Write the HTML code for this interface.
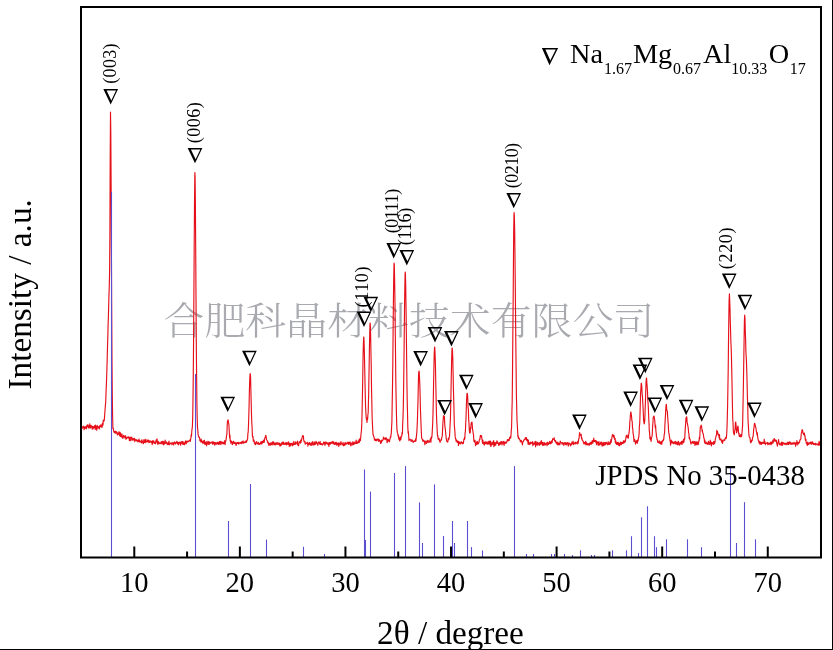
<!DOCTYPE html>
<html><head><meta charset="utf-8"><style>
html,body{margin:0;padding:0;background:#fff;}
body{width:833px;height:650px;overflow:hidden;position:relative;}
svg{position:absolute;left:0;top:0;display:block;}
text{font-family:"Liberation Serif","Times New Roman",serif;}
</style></head><body>
<svg width="833" height="650" viewBox="0 0 833 650">
<rect x="0" y="0" width="833" height="650" fill="#ffffff"/>
<text x="163.6" y="335" transform="translate(0,319) scale(1,0.93) translate(0,-319)" font-size="40.9" fill="#a9aab0" style="font-family:'Liberation Serif','Noto Serif CJK SC',serif;font-weight:300">合肥科晶材料技术有限公司</text>
<polyline fill="none" stroke="#e6101a" stroke-width="1.15" stroke-linejoin="round" points="82.0,427.8 82.3,428.2 82.6,427.4 82.9,426.4 83.2,427.1 83.5,426.3 83.8,427.9 84.1,429.8 84.4,427.0 84.7,426.8 85.0,428.5 85.3,428.3 85.6,427.9 85.9,426.3 86.2,427.7 86.5,428.8 86.8,425.7 87.1,427.0 87.4,424.8 87.7,425.7 88.0,424.9 88.3,427.3 88.6,425.7 88.9,428.1 89.2,427.9 89.5,427.3 89.8,423.8 90.1,426.8 90.4,427.5 90.7,427.8 91.0,425.3 91.3,426.8 91.6,426.1 91.9,426.3 92.2,429.1 92.5,426.3 92.8,427.4 93.1,428.8 93.4,426.6 93.7,427.3 94.0,427.6 94.3,427.5 94.6,425.5 94.9,427.5 95.2,429.4 95.5,425.0 95.8,428.6 96.1,427.4 96.4,426.3 96.7,430.3 97.0,428.3 97.3,425.3 97.6,427.2 97.9,427.9 98.2,426.7 98.5,428.0 98.8,426.8 99.1,427.9 99.4,429.0 99.7,425.7 100.0,427.0 100.3,425.9 100.6,426.7 100.9,424.6 101.2,425.4 101.5,425.8 101.8,427.3 102.1,427.4 102.4,423.2 102.7,423.5 103.0,425.1 103.3,420.1 103.6,421.4 103.9,420.5 104.2,420.8 104.5,417.6 104.8,413.0 105.1,409.3 105.4,405.0 105.7,402.6 106.0,393.2 106.3,386.2 106.6,379.0 106.9,369.1 107.2,358.9 107.5,346.8 107.8,337.4 108.1,325.3 108.4,316.6 108.7,305.0 109.0,293.9 109.3,285.6 109.6,271.0 109.9,233.6 110.2,158.9 110.5,112.0 110.8,132.3 111.1,183.1 111.4,249.3 111.7,310.0 112.0,363.1 112.3,395.4 112.6,415.9 112.9,428.5 113.2,427.8 113.5,429.7 113.8,431.6 114.1,432.3 114.4,431.6 114.7,431.8 115.0,433.2 115.3,433.2 115.6,431.2 115.9,432.7 116.2,433.0 116.5,431.7 116.8,433.7 117.1,432.3 117.4,435.0 117.7,434.1 118.0,434.1 118.3,433.4 118.6,434.2 118.9,431.8 119.2,433.1 119.5,435.3 119.8,432.1 120.1,436.2 120.4,432.9 120.7,436.4 121.0,434.4 121.3,436.7 121.6,436.0 121.9,433.9 122.2,437.7 122.5,438.1 122.8,436.2 123.1,436.1 123.4,436.3 123.7,435.4 124.0,438.2 124.3,436.2 124.6,436.9 124.9,436.1 125.2,436.4 125.5,435.7 125.8,439.1 126.1,437.3 126.4,438.9 126.7,437.8 127.0,437.0 127.3,437.5 127.6,437.3 127.9,438.1 128.2,437.8 128.5,437.9 128.8,436.7 129.1,437.5 129.4,440.7 129.7,437.8 130.0,437.4 130.3,439.3 130.6,440.7 130.9,437.2 131.2,438.8 131.5,438.4 131.8,437.1 132.1,440.2 132.4,439.4 132.7,439.5 133.0,438.6 133.3,440.2 133.6,439.0 133.9,439.6 134.2,438.4 134.5,438.4 134.8,441.6 135.1,439.4 135.4,440.4 135.7,440.1 136.0,439.6 136.3,439.6 136.6,441.0 136.9,440.0 137.2,440.2 137.5,440.5 137.8,441.9 138.1,441.4 138.4,441.1 138.7,440.0 139.0,439.1 139.3,441.9 139.6,442.0 139.9,440.7 140.2,441.6 140.5,441.9 140.8,442.0 141.1,442.1 141.4,440.6 141.7,442.9 142.0,439.7 142.3,442.2 142.6,441.8 142.9,442.3 143.2,443.6 143.5,443.1 143.8,440.1 144.1,439.5 144.4,442.5 144.7,440.3 145.0,441.6 145.3,442.6 145.6,439.7 145.9,439.2 146.2,442.0 146.5,441.8 146.8,441.5 147.1,441.9 147.4,440.8 147.7,440.1 148.0,441.7 148.3,440.8 148.6,440.1 148.9,442.6 149.2,441.9 149.5,442.5 149.8,440.9 150.1,441.3 150.4,441.0 150.7,441.1 151.0,442.4 151.3,441.3 151.6,442.6 151.9,442.6 152.2,444.6 152.5,440.7 152.8,443.3 153.1,442.2 153.4,442.3 153.7,440.7 154.0,441.9 154.3,443.3 154.6,442.4 154.9,442.6 155.2,442.2 155.5,443.8 155.8,442.5 156.1,440.0 156.4,441.8 156.7,440.3 157.0,438.9 157.3,442.0 157.6,444.2 157.9,442.7 158.2,441.3 158.5,441.6 158.8,444.0 159.1,442.9 159.4,442.8 159.7,442.7 160.0,442.8 160.3,443.7 160.6,443.4 160.9,443.0 161.2,441.6 161.5,443.4 161.8,442.1 162.1,444.1 162.4,441.4 162.7,442.7 163.0,442.9 163.3,441.4 163.6,444.9 163.9,444.6 164.2,442.4 164.5,443.8 164.8,443.4 165.1,440.0 165.4,443.3 165.7,442.9 166.0,443.1 166.3,441.8 166.6,442.7 166.9,442.8 167.2,444.4 167.5,443.4 167.8,443.0 168.1,444.8 168.4,442.4 168.7,442.6 169.0,441.0 169.3,444.8 169.6,444.2 169.9,444.1 170.2,443.8 170.5,443.2 170.8,443.3 171.1,442.8 171.4,442.9 171.7,443.2 172.0,444.8 172.3,443.7 172.6,443.0 172.9,442.5 173.2,442.4 173.5,444.9 173.8,443.7 174.1,443.2 174.4,442.7 174.7,441.9 175.0,443.0 175.3,444.1 175.6,442.7 175.9,442.9 176.2,442.9 176.5,443.2 176.8,441.3 177.1,442.8 177.4,442.1 177.7,444.1 178.0,442.2 178.3,443.7 178.6,444.8 178.9,442.7 179.2,442.4 179.5,443.3 179.8,443.0 180.1,441.9 180.4,443.5 180.7,445.3 181.0,442.7 181.3,442.7 181.6,441.8 181.9,443.3 182.2,441.5 182.5,441.6 182.8,444.3 183.1,441.8 183.4,444.0 183.7,444.5 184.0,443.0 184.3,443.3 184.6,444.8 184.9,442.3 185.2,441.8 185.5,440.9 185.8,442.4 186.1,444.0 186.4,443.3 186.7,441.0 187.0,441.0 187.3,441.3 187.6,442.1 187.9,441.4 188.2,441.7 188.5,441.6 188.8,440.7 189.1,440.7 189.4,440.7 189.7,440.0 190.0,440.3 190.3,441.5 190.6,439.3 190.9,437.9 191.2,434.7 191.5,436.2 191.8,431.1 192.1,428.6 192.4,426.6 192.7,416.8 193.0,399.5 193.3,372.0 193.6,338.6 193.9,293.3 194.2,246.1 194.5,204.8 194.8,175.3 194.9,172.5 195.1,177.0 195.4,205.0 195.7,249.4 196.0,296.7 196.3,342.7 196.6,375.1 196.9,402.9 197.2,418.2 197.5,427.3 197.8,430.2 198.1,434.6 198.4,435.6 198.7,436.5 199.0,437.5 199.3,437.1 199.6,437.5 199.9,440.8 200.2,440.0 200.5,440.8 200.8,442.0 201.1,439.1 201.4,440.4 201.7,441.7 202.0,442.2 202.3,441.4 202.6,443.2 202.9,442.4 203.2,440.8 203.5,441.3 203.8,443.3 204.1,443.0 204.4,440.4 204.7,444.2 205.0,443.4 205.3,444.3 205.6,442.4 205.9,442.5 206.2,441.6 206.5,445.8 206.8,442.8 207.1,444.8 207.4,442.3 207.7,443.3 208.0,441.2 208.3,442.7 208.6,444.3 208.9,441.8 209.2,444.4 209.5,443.6 209.8,442.1 210.1,442.7 210.4,442.7 210.7,443.2 211.0,442.7 211.3,442.4 211.6,443.0 211.9,442.2 212.2,441.9 212.5,443.3 212.8,444.3 213.1,441.7 213.4,443.4 213.7,442.7 214.0,442.3 214.3,444.4 214.6,442.8 214.9,445.1 215.2,442.5 215.5,443.9 215.8,443.2 216.1,442.6 216.4,444.1 216.7,443.3 217.0,444.1 217.3,443.4 217.6,442.2 217.9,443.3 218.2,443.5 218.5,444.5 218.8,442.4 219.1,443.4 219.4,441.5 219.7,444.1 220.0,442.2 220.3,441.4 220.6,443.3 220.9,444.6 221.2,441.7 221.5,442.1 221.8,442.5 222.1,442.1 222.4,443.7 222.7,442.4 223.0,442.4 223.3,443.8 223.6,442.3 223.9,443.6 224.2,441.9 224.5,441.5 224.8,440.6 225.1,444.6 225.4,441.6 225.7,441.5 226.0,439.9 226.3,438.1 226.6,435.1 226.9,434.2 227.2,425.8 227.5,420.9 227.8,420.6 228.1,419.8 228.1,419.8 228.4,422.5 228.7,422.9 229.0,426.3 229.3,431.9 229.6,437.6 229.9,434.9 230.2,440.9 230.5,440.1 230.8,443.3 231.1,441.3 231.4,442.4 231.7,441.2 232.0,441.9 232.3,444.7 232.6,444.1 232.9,442.8 233.2,442.3 233.5,441.2 233.8,442.9 234.1,443.3 234.4,443.3 234.7,443.3 235.0,442.1 235.3,443.3 235.6,443.4 235.9,444.9 236.2,445.5 236.5,443.3 236.8,442.6 237.1,443.4 237.4,442.7 237.7,442.6 238.0,443.4 238.3,442.3 238.6,444.1 238.9,443.3 239.2,443.7 239.5,443.2 239.8,442.6 240.1,442.3 240.4,443.1 240.7,442.7 241.0,443.6 241.3,443.3 241.6,441.8 241.9,443.3 242.2,441.7 242.5,442.5 242.8,442.8 243.1,440.8 243.4,443.2 243.7,443.2 244.0,442.8 244.3,442.4 244.6,442.4 244.9,441.6 245.2,442.3 245.5,441.8 245.8,442.4 246.1,440.7 246.4,442.1 246.7,441.6 247.0,440.7 247.3,439.4 247.6,439.0 247.9,433.4 248.2,431.8 248.5,424.9 248.8,415.9 249.1,404.9 249.4,391.1 249.7,380.9 250.0,374.6 250.2,373.5 250.3,374.1 250.6,377.3 250.9,390.7 251.2,403.6 251.5,414.8 251.8,423.0 252.1,427.5 252.4,435.9 252.7,437.5 253.0,436.5 253.3,441.1 253.6,439.6 253.9,440.2 254.2,441.3 254.5,443.7 254.8,442.0 255.1,442.9 255.4,444.7 255.7,444.6 256.0,442.8 256.3,442.7 256.6,441.6 256.9,442.3 257.2,443.6 257.5,443.6 257.8,443.3 258.1,444.3 258.4,442.4 258.7,443.2 259.0,444.1 259.3,444.0 259.6,444.5 259.9,443.8 260.2,443.0 260.5,443.8 260.8,442.2 261.1,441.5 261.4,444.0 261.7,443.3 262.0,443.7 262.3,441.4 262.6,442.8 262.9,442.5 263.2,442.0 263.5,440.1 263.8,441.8 264.1,442.4 264.4,440.8 264.7,438.3 265.0,437.7 265.3,437.4 265.6,435.6 265.8,435.5 265.9,435.6 266.2,437.1 266.5,439.5 266.8,440.1 267.1,440.4 267.4,441.5 267.7,442.9 268.0,441.9 268.3,442.9 268.6,444.2 268.9,445.5 269.2,443.2 269.5,443.4 269.8,443.7 270.1,445.0 270.4,443.5 270.7,445.2 271.0,442.5 271.3,443.4 271.6,443.4 271.9,444.5 272.2,444.8 272.5,441.9 272.8,442.6 273.1,444.0 273.4,442.9 273.7,441.9 274.0,444.8 274.3,444.2 274.6,444.2 274.9,443.1 275.2,444.8 275.5,443.4 275.8,444.9 276.1,442.7 276.4,442.7 276.7,443.9 277.0,442.9 277.3,444.4 277.6,444.0 277.9,442.7 278.2,443.8 278.5,443.3 278.8,444.7 279.1,443.0 279.4,443.2 279.7,445.0 280.0,446.2 280.3,445.9 280.6,443.8 280.9,443.9 281.2,445.4 281.5,443.6 281.8,442.6 282.1,443.8 282.4,444.2 282.7,442.8 283.0,441.9 283.3,442.1 283.6,444.4 283.9,442.9 284.2,443.5 284.5,443.9 284.8,444.4 285.1,443.3 285.4,444.3 285.7,442.7 286.0,443.3 286.3,442.6 286.6,445.0 286.9,443.7 287.2,442.9 287.5,443.3 287.8,443.5 288.1,444.5 288.4,441.9 288.7,442.6 289.0,443.3 289.3,446.5 289.6,444.8 289.9,443.6 290.2,444.5 290.5,446.0 290.8,443.4 291.1,443.3 291.4,445.0 291.7,444.2 292.0,444.4 292.3,443.1 292.6,445.8 292.9,445.6 293.2,444.3 293.5,444.4 293.8,441.4 294.1,444.4 294.4,443.5 294.7,444.2 295.0,444.4 295.3,443.3 295.6,441.8 295.9,444.1 296.2,442.8 296.5,443.3 296.8,443.0 297.1,443.2 297.4,441.0 297.7,445.0 298.0,443.9 298.3,444.8 298.6,445.8 298.9,443.5 299.2,441.5 299.5,442.4 299.8,442.0 300.1,442.7 300.4,443.1 300.7,440.3 301.0,442.4 301.3,439.4 301.6,440.4 301.9,438.6 302.2,436.9 302.5,436.1 302.8,435.5 302.9,435.5 303.1,435.6 303.4,436.4 303.7,439.9 304.0,441.4 304.3,441.8 304.6,442.1 304.9,441.3 305.2,444.3 305.5,443.0 305.8,443.2 306.1,443.0 306.4,443.5 306.7,443.0 307.0,443.4 307.3,442.3 307.6,443.2 307.9,446.1 308.2,443.5 308.5,443.3 308.8,444.2 309.1,444.4 309.4,442.4 309.7,443.4 310.0,444.7 310.3,444.0 310.6,443.8 310.9,445.4 311.2,442.9 311.5,443.8 311.8,443.1 312.1,445.3 312.4,441.5 312.7,442.9 313.0,443.1 313.3,444.4 313.6,444.4 313.9,445.2 314.2,441.9 314.5,444.5 314.8,443.4 315.1,442.9 315.4,444.3 315.7,442.7 316.0,441.4 316.3,443.3 316.6,442.0 316.9,443.0 317.2,444.1 317.5,444.0 317.8,445.4 318.1,443.5 318.4,442.0 318.7,442.8 319.0,442.7 319.3,442.3 319.6,444.2 319.9,443.0 320.2,441.5 320.5,444.5 320.8,443.6 321.1,444.1 321.4,443.8 321.7,444.4 322.0,443.7 322.3,445.1 322.6,444.2 322.9,444.1 323.2,444.1 323.5,442.1 323.8,443.5 324.1,443.4 324.4,443.9 324.7,442.2 325.0,445.5 325.3,443.8 325.6,442.3 325.9,441.8 326.2,443.4 326.5,443.6 326.8,442.9 327.1,443.8 327.4,443.0 327.7,444.3 328.0,442.9 328.3,443.6 328.6,444.7 328.9,446.5 329.2,442.5 329.5,443.1 329.8,442.7 330.1,444.5 330.4,442.4 330.7,443.1 331.0,443.6 331.3,442.6 331.6,442.6 331.9,443.1 332.2,441.3 332.5,442.0 332.8,443.2 333.1,443.8 333.4,443.4 333.7,441.7 334.0,443.1 334.3,444.5 334.6,444.2 334.9,443.5 335.2,442.6 335.5,444.3 335.8,443.0 336.1,442.3 336.4,442.7 336.7,445.2 337.0,443.8 337.3,444.9 337.6,443.1 337.9,444.6 338.2,442.9 338.5,443.4 338.8,446.4 339.1,444.4 339.4,443.0 339.7,443.5 340.0,443.9 340.3,444.9 340.6,443.0 340.9,441.6 341.2,443.2 341.5,443.6 341.8,443.7 342.1,445.0 342.4,443.9 342.7,444.4 343.0,442.3 343.3,444.5 343.6,445.8 343.9,444.4 344.2,443.8 344.5,443.7 344.8,445.5 345.1,442.4 345.4,443.3 345.7,444.0 346.0,444.3 346.3,443.0 346.6,443.8 346.9,443.1 347.2,443.6 347.5,443.3 347.8,442.1 348.1,443.4 348.4,444.4 348.7,442.3 349.0,443.1 349.3,444.1 349.6,442.1 349.9,443.5 350.2,442.1 350.5,444.5 350.8,445.9 351.1,445.5 351.4,443.0 351.7,444.0 352.0,443.3 352.3,443.3 352.6,444.9 352.9,441.6 353.2,444.3 353.5,443.0 353.8,444.6 354.1,443.2 354.4,442.2 354.7,443.2 355.0,443.7 355.3,442.8 355.6,443.3 355.9,442.0 356.2,440.1 356.5,443.5 356.8,443.2 357.1,442.5 357.4,442.3 357.7,443.3 358.0,441.4 358.3,440.9 358.6,441.3 358.9,442.7 359.2,439.4 359.5,442.2 359.8,439.6 360.1,438.4 360.4,440.6 360.7,437.6 361.0,434.0 361.3,431.8 361.6,428.1 361.9,420.0 362.2,405.4 362.5,391.3 362.8,374.2 363.1,354.8 363.4,343.3 363.7,337.1 363.8,337.0 364.0,339.7 364.3,349.2 364.6,362.9 364.9,377.3 365.2,391.5 365.5,405.0 365.8,411.0 366.1,416.4 366.4,419.1 366.7,419.2 367.0,422.5 367.3,417.6 367.6,419.4 367.9,414.8 368.2,412.5 368.5,399.6 368.6,397.5 368.8,385.3 369.1,368.5 369.4,349.9 369.7,333.8 370.0,323.9 370.1,323.0 370.3,324.4 370.6,333.3 370.9,350.3 371.2,363.5 371.5,386.8 371.8,400.4 372.1,416.3 372.4,423.6 372.7,428.7 373.0,434.4 373.3,434.9 373.6,436.3 373.9,436.3 374.2,438.7 374.5,439.6 374.8,440.4 375.1,439.1 375.4,440.7 375.7,439.4 376.0,439.4 376.3,440.1 376.6,440.8 376.9,439.1 377.2,439.2 377.5,439.4 377.8,439.8 378.1,438.8 378.4,441.3 378.7,439.7 379.0,440.9 379.3,439.6 379.6,441.2 379.9,441.3 380.2,440.5 380.5,443.5 380.8,441.6 381.1,443.2 381.4,442.2 381.7,440.1 382.0,440.3 382.3,441.0 382.6,440.3 382.9,440.0 383.2,439.2 383.5,437.1 383.8,438.8 384.1,439.0 384.4,438.9 384.4,438.9 384.7,438.1 385.0,438.9 385.3,439.7 385.6,437.9 385.9,437.8 386.2,438.9 386.5,438.0 386.8,439.4 387.1,442.6 387.4,439.5 387.7,441.6 388.0,439.1 388.3,441.0 388.6,440.1 388.9,440.2 389.2,440.7 389.5,441.8 389.8,439.4 390.1,438.7 390.4,436.6 390.7,437.5 391.0,434.6 391.3,433.3 391.6,427.1 391.9,421.8 392.2,403.1 392.5,387.2 392.8,364.6 393.1,333.6 393.4,302.8 393.7,278.4 394.0,264.8 394.1,263.0 394.3,264.7 394.6,278.9 394.9,296.9 395.2,324.2 395.5,352.8 395.8,379.9 396.1,396.9 396.4,411.6 396.7,424.0 397.0,430.2 397.3,432.2 397.6,433.5 397.9,434.4 398.2,436.3 398.5,435.0 398.8,439.1 399.1,437.6 399.4,439.2 399.7,441.0 400.0,440.1 400.3,437.1 400.6,439.5 400.9,439.6 401.2,436.7 401.5,435.8 401.8,436.0 402.1,432.4 402.4,434.0 402.7,423.6 403.0,417.8 403.3,407.1 403.6,389.7 403.9,367.1 404.2,339.8 404.5,310.6 404.8,288.9 405.1,273.7 405.2,272.0 405.4,273.5 405.7,285.2 406.0,305.3 406.3,328.7 406.6,355.5 406.9,381.5 407.2,400.0 407.5,412.5 407.8,426.6 408.1,433.1 408.4,431.5 408.7,436.3 409.0,440.6 409.3,439.3 409.6,439.2 409.9,439.2 410.2,439.2 410.5,439.9 410.8,439.8 411.1,441.5 411.4,440.3 411.7,440.4 412.0,439.7 412.3,441.1 412.6,440.2 412.9,441.1 413.2,442.5 413.5,441.7 413.8,441.8 414.1,441.6 414.4,441.2 414.7,440.8 415.0,440.4 415.3,441.4 415.6,438.8 415.9,441.1 416.2,438.4 416.5,435.4 416.8,432.5 417.1,427.0 417.4,420.9 417.7,409.8 418.0,401.2 418.3,386.1 418.6,373.7 418.9,371.7 419.1,371.0 419.2,371.6 419.5,377.9 419.8,384.3 420.0,391.1 420.1,394.6 420.4,408.4 420.7,416.0 421.0,423.7 421.3,431.4 421.6,437.5 421.9,438.6 422.2,438.9 422.5,440.2 422.8,441.2 423.1,440.2 423.4,440.0 423.7,441.5 424.0,440.5 424.3,441.7 424.6,442.0 424.9,444.7 425.2,441.1 425.5,442.0 425.8,441.9 426.1,442.7 426.4,443.4 426.7,441.6 427.0,441.2 427.3,440.3 427.6,441.1 427.9,442.7 428.2,442.1 428.5,440.8 428.8,441.4 429.1,441.8 429.4,442.2 429.7,440.8 430.0,441.0 430.3,438.9 430.6,439.4 430.9,442.3 431.2,437.1 431.5,438.4 431.8,437.5 432.1,434.1 432.4,429.0 432.7,423.2 433.0,413.4 433.3,400.2 433.6,381.9 433.9,368.7 434.2,354.1 434.5,348.0 434.6,347.0 434.8,347.7 435.1,355.1 435.4,363.3 435.7,379.1 436.0,393.9 436.3,407.3 436.6,418.8 436.9,424.8 437.2,430.7 437.5,435.9 437.8,435.5 438.1,439.0 438.4,438.9 438.7,439.7 439.0,438.4 439.3,439.7 439.6,440.9 439.9,442.0 440.2,442.2 440.5,440.9 440.8,440.5 441.1,439.3 441.4,440.1 441.7,437.9 442.0,437.0 442.3,435.7 442.6,429.4 442.9,422.9 443.2,419.7 443.5,415.6 443.8,416.5 443.9,416.5 444.1,417.0 444.4,416.6 444.7,423.1 445.0,427.7 445.3,429.0 445.6,432.0 445.9,435.2 446.2,438.1 446.5,439.8 446.8,441.3 447.1,441.8 447.4,441.9 447.7,442.1 448.0,441.1 448.3,438.2 448.6,439.5 448.9,439.3 449.2,437.2 449.5,436.7 449.8,431.3 450.1,424.5 450.4,419.4 450.7,406.2 451.0,390.9 451.3,376.1 451.6,361.9 451.9,350.7 452.1,348.0 452.2,348.1 452.5,351.2 452.8,359.0 453.1,372.9 453.4,388.4 453.7,399.5 454.0,410.4 454.3,425.0 454.6,428.1 454.9,431.8 455.2,436.9 455.5,439.0 455.8,438.7 456.1,441.3 456.4,440.2 456.7,440.0 457.0,441.6 457.3,442.5 457.6,441.0 457.9,442.3 458.2,441.9 458.5,445.4 458.8,441.4 459.1,443.8 459.4,442.2 459.7,442.2 460.0,443.2 460.3,443.4 460.6,443.8 460.9,442.8 461.2,441.7 461.5,441.7 461.8,442.9 462.1,442.9 462.4,443.8 462.7,442.5 463.0,443.1 463.3,443.5 463.6,441.6 463.9,439.3 464.2,438.9 464.5,437.4 464.8,439.3 465.1,432.9 465.4,431.3 465.7,424.1 466.0,418.2 466.3,408.8 466.6,399.5 466.9,394.6 467.1,393.2 467.2,393.2 467.5,394.3 467.8,399.4 468.1,408.0 468.4,409.6 468.7,419.5 469.0,423.6 469.3,429.6 469.6,433.0 469.9,432.5 470.2,432.9 470.5,427.4 470.8,428.7 471.1,423.5 471.4,422.7 471.6,422.3 471.7,422.3 472.0,422.1 472.3,425.5 472.6,430.0 472.9,430.9 473.2,433.8 473.5,434.2 473.8,440.0 474.1,442.0 474.4,440.9 474.7,441.3 475.0,440.2 475.3,443.3 475.6,445.6 475.9,443.4 476.2,444.2 476.5,443.4 476.8,441.7 477.1,444.4 477.4,441.5 477.7,442.6 478.0,443.2 478.3,443.8 478.6,443.1 478.9,442.7 479.2,440.8 479.5,439.3 479.8,439.7 480.1,437.4 480.4,435.4 480.7,436.5 480.8,436.5 481.0,436.6 481.3,435.5 481.6,435.9 481.9,439.1 482.2,440.5 482.5,443.3 482.8,440.0 483.1,441.6 483.4,443.8 483.7,442.7 484.0,442.8 484.3,445.1 484.6,442.9 484.9,442.0 485.2,441.8 485.5,443.7 485.8,443.7 486.1,441.8 486.4,442.3 486.7,444.0 487.0,444.0 487.3,442.7 487.6,444.1 487.9,444.1 488.2,441.4 488.5,443.1 488.8,443.9 489.1,442.8 489.4,441.0 489.7,443.1 490.0,444.3 490.3,445.2 490.6,441.0 490.9,446.4 491.2,442.2 491.5,444.5 491.8,444.8 492.1,444.5 492.4,443.6 492.7,442.1 493.0,444.1 493.3,442.6 493.6,440.6 493.9,446.6 494.2,444.2 494.5,445.4 494.8,442.4 495.1,445.0 495.4,445.2 495.7,445.1 496.0,443.3 496.3,442.0 496.6,443.1 496.9,440.9 497.2,441.4 497.5,443.4 497.8,442.2 498.1,443.1 498.4,443.2 498.7,445.4 499.0,444.7 499.3,443.2 499.6,444.6 499.9,442.3 500.2,442.8 500.5,444.2 500.8,441.7 501.1,442.8 501.4,441.6 501.7,443.2 502.0,444.9 502.3,442.1 502.6,443.2 502.9,441.9 503.2,441.6 503.5,441.4 503.8,444.4 504.1,445.4 504.4,443.2 504.7,441.8 505.0,443.3 505.3,442.1 505.6,443.3 505.9,442.6 506.2,442.5 506.5,442.8 506.8,441.3 507.1,441.3 507.4,439.6 507.7,440.9 508.0,439.5 508.3,440.8 508.6,439.5 508.9,440.4 509.2,440.5 509.5,437.7 509.8,437.8 510.1,436.9 510.4,438.2 510.7,438.1 511.0,435.1 511.3,430.1 511.6,427.1 511.9,412.5 512.2,401.3 512.5,374.1 512.8,338.7 513.1,309.0 513.4,267.5 513.7,230.4 514.0,214.4 514.1,212.5 514.3,214.7 514.6,226.0 514.9,248.9 515.2,278.0 515.5,308.8 515.8,341.9 516.1,368.5 516.4,395.0 516.7,407.2 517.0,420.5 517.3,424.7 517.6,430.4 517.9,436.8 518.2,435.5 518.5,438.5 518.8,438.5 519.1,438.0 519.4,439.3 519.7,439.5 520.0,439.9 520.3,441.7 520.6,441.8 520.9,440.6 521.2,440.4 521.5,441.9 521.8,441.6 522.1,443.0 522.4,445.0 522.7,442.9 523.0,441.8 523.3,441.5 523.6,440.5 523.9,440.1 524.2,439.5 524.5,439.7 524.8,438.9 525.1,439.7 525.4,437.7 525.7,437.5 526.0,437.5 526.1,437.5 526.3,437.6 526.6,440.1 526.9,439.3 527.2,440.8 527.5,439.3 527.8,441.1 528.1,444.1 528.4,440.0 528.7,443.3 529.0,444.3 529.3,443.1 529.6,443.7 529.9,444.4 530.2,442.3 530.5,443.6 530.8,442.2 531.1,442.4 531.4,442.5 531.7,443.1 532.0,443.5 532.3,443.8 532.6,441.7 532.9,445.6 533.2,444.7 533.5,444.2 533.8,443.0 534.1,443.3 534.4,444.1 534.7,443.9 535.0,441.5 535.3,444.3 535.6,446.8 535.9,441.4 536.2,444.6 536.5,443.9 536.8,443.4 537.1,445.1 537.4,442.2 537.7,443.7 538.0,445.2 538.3,443.3 538.6,443.1 538.9,443.7 539.2,443.0 539.5,445.3 539.8,442.5 540.1,444.6 540.4,442.1 540.7,444.3 541.0,443.4 541.3,440.6 541.6,443.6 541.9,442.4 542.2,443.1 542.5,445.3 542.8,442.3 543.1,442.4 543.4,445.2 543.7,443.7 544.0,445.3 544.3,444.0 544.6,442.6 544.9,443.5 545.2,445.0 545.5,444.7 545.8,443.6 546.1,443.6 546.4,443.4 546.7,442.9 547.0,445.8 547.3,443.6 547.6,442.2 547.9,443.0 548.2,444.4 548.5,444.2 548.8,443.3 549.1,442.7 549.4,443.4 549.7,441.4 550.0,441.6 550.3,443.9 550.6,442.1 550.9,442.7 551.2,443.3 551.5,442.0 551.8,440.6 552.1,442.7 552.4,440.3 552.7,438.7 553.0,439.0 553.0,439.0 553.3,439.1 553.6,439.4 553.9,439.5 554.2,437.7 554.5,440.5 554.8,440.9 555.1,441.3 555.4,440.3 555.7,442.2 556.0,442.8 556.3,443.2 556.6,442.0 556.9,444.1 557.2,442.0 557.5,443.2 557.8,445.0 558.1,442.8 558.4,443.0 558.7,444.8 559.0,443.2 559.3,443.3 559.6,443.9 559.9,444.8 560.2,441.1 560.5,442.7 560.8,442.5 561.1,442.4 561.4,442.7 561.7,442.7 562.0,444.0 562.3,442.6 562.6,443.8 562.9,444.1 563.2,442.8 563.5,443.8 563.8,445.5 564.1,444.0 564.4,442.9 564.7,443.6 565.0,442.6 565.3,444.0 565.6,444.6 565.9,442.7 566.2,443.4 566.5,444.9 566.8,443.1 567.1,443.9 567.4,442.5 567.7,442.7 568.0,443.1 568.3,446.1 568.6,443.2 568.9,443.1 569.2,443.0 569.5,443.5 569.8,444.4 570.1,443.9 570.4,445.9 570.7,443.9 571.0,445.3 571.3,444.0 571.6,444.3 571.9,442.0 572.2,443.5 572.5,443.6 572.8,443.4 573.1,441.2 573.4,444.6 573.7,443.2 574.0,443.1 574.3,443.3 574.6,443.3 574.9,444.0 575.2,442.1 575.5,442.5 575.8,443.8 576.1,443.6 576.4,443.0 576.7,442.7 577.0,442.3 577.3,443.0 577.6,444.0 577.9,441.0 578.2,443.2 578.5,441.3 578.8,438.3 579.1,438.4 579.4,434.0 579.7,432.6 580.0,434.5 580.0,434.5 580.3,434.7 580.6,434.6 580.9,436.2 581.2,434.3 581.5,438.7 581.8,437.5 582.1,439.5 582.4,440.7 582.7,440.6 583.0,440.9 583.3,441.7 583.6,443.1 583.9,443.9 584.2,444.0 584.5,442.3 584.8,442.6 585.1,442.5 585.4,444.0 585.7,441.3 586.0,444.9 586.3,443.0 586.6,442.7 586.9,443.9 587.2,444.7 587.5,444.0 587.8,444.8 588.1,443.7 588.4,444.9 588.7,445.0 589.0,443.5 589.3,445.2 589.6,443.7 589.9,443.7 590.2,442.5 590.5,443.2 590.8,444.4 591.1,442.0 591.4,444.1 591.7,443.6 592.0,443.4 592.3,440.3 592.6,442.4 592.9,442.9 593.2,440.8 593.5,441.4 593.8,438.1 594.1,441.5 594.4,440.5 594.5,440.5 594.7,440.5 595.0,441.5 595.3,440.6 595.6,442.1 595.9,440.4 596.2,441.1 596.5,444.8 596.8,441.5 597.1,442.0 597.4,442.7 597.7,442.0 598.0,444.6 598.3,445.3 598.6,442.7 598.9,441.6 599.2,444.8 599.5,444.8 599.8,444.5 600.1,444.9 600.4,442.6 600.7,443.4 601.0,442.1 601.3,442.0 601.6,444.7 601.9,442.9 602.2,446.1 602.5,443.7 602.8,442.9 603.1,444.5 603.4,445.6 603.7,444.1 604.0,442.2 604.3,444.0 604.6,445.1 604.9,443.0 605.2,442.7 605.5,444.7 605.8,443.7 606.1,442.3 606.4,443.1 606.7,442.7 607.0,443.9 607.3,443.6 607.6,444.8 607.9,444.3 608.2,441.7 608.5,443.9 608.8,444.4 609.1,443.9 609.4,444.5 609.7,442.6 610.0,442.0 610.3,443.9 610.6,441.3 610.9,439.5 611.2,442.5 611.5,439.4 611.8,438.7 612.1,436.1 612.4,435.0 612.7,434.4 613.0,435.6 613.0,435.6 613.3,435.7 613.6,437.2 613.9,435.2 614.2,436.1 614.5,439.2 614.8,439.1 615.1,438.3 615.4,443.1 615.7,440.6 616.0,442.5 616.3,442.8 616.6,444.5 616.9,442.5 617.2,444.3 617.5,442.4 617.8,444.5 618.1,442.4 618.4,442.9 618.7,445.5 619.0,443.7 619.3,443.5 619.6,445.8 619.9,443.7 620.2,442.4 620.5,444.1 620.8,442.0 621.1,444.6 621.4,444.6 621.7,442.6 622.0,442.5 622.3,443.4 622.6,443.2 622.9,442.0 623.2,443.7 623.5,440.7 623.8,442.4 624.1,442.3 624.4,442.3 624.7,442.6 625.0,440.3 625.3,441.6 625.6,439.8 625.9,438.1 626.2,436.0 626.5,435.4 626.8,436.9 627.1,435.0 627.4,436.5 627.7,438.0 628.0,437.9 628.3,438.2 628.6,435.3 628.6,435.0 628.9,433.6 629.2,431.3 629.5,428.7 629.8,422.4 630.1,419.5 630.4,415.2 630.7,412.1 630.8,412.0 631.0,412.5 631.3,414.7 631.6,417.1 631.9,420.9 632.2,421.3 632.5,428.0 632.8,428.6 633.1,433.5 633.4,434.9 633.7,437.1 634.0,441.6 634.3,439.9 634.6,439.4 634.9,440.5 635.2,441.2 635.5,444.2 635.8,442.0 636.1,442.8 636.4,440.5 636.7,442.0 637.0,442.2 637.3,443.4 637.6,440.1 637.9,441.3 638.2,440.3 638.5,437.6 638.8,437.0 639.1,433.7 639.4,426.0 639.7,423.8 640.0,415.1 640.3,403.8 640.6,392.6 640.9,389.4 641.2,383.4 641.3,383.2 641.5,384.1 641.8,386.6 642.1,393.2 642.4,396.1 642.7,401.2 643.0,406.6 643.3,412.6 643.6,419.9 643.9,422.4 644.2,423.9 644.5,422.8 644.8,419.8 645.1,410.8 645.4,402.2 645.7,392.8 646.0,383.1 646.3,378.9 646.5,378.1 646.6,378.5 646.9,383.9 647.2,387.3 647.5,391.7 647.8,400.5 648.1,403.5 648.4,409.6 648.7,417.2 649.0,423.7 649.3,430.8 649.6,432.9 649.9,438.7 650.2,436.7 650.5,439.7 650.8,438.1 651.1,441.5 651.4,438.2 651.7,437.2 652.0,436.4 652.3,433.8 652.6,426.4 652.9,423.2 653.2,417.5 653.5,417.0 653.8,416.2 653.8,416.2 654.1,416.1 654.4,418.5 654.7,420.0 655.0,424.2 655.3,428.0 655.6,425.3 655.9,431.0 656.2,433.4 656.5,437.1 656.8,437.2 657.1,439.7 657.4,439.6 657.7,442.3 658.0,442.0 658.3,442.0 658.6,442.7 658.9,442.1 659.2,440.7 659.5,443.2 659.8,442.9 660.1,442.4 660.4,443.7 660.7,443.9 661.0,441.3 661.3,441.6 661.6,444.2 661.9,444.0 662.2,441.4 662.5,440.7 662.8,441.1 663.1,441.0 663.4,439.1 663.7,440.0 664.0,436.7 664.3,434.0 664.6,433.0 664.9,425.3 665.2,420.0 665.5,414.6 665.8,409.3 666.1,404.8 666.2,404.3 666.4,404.6 666.7,409.4 667.0,410.6 667.3,410.9 667.6,415.6 667.9,420.0 668.2,423.5 668.5,429.7 668.8,432.9 669.1,433.6 669.4,437.0 669.7,437.6 670.0,440.8 670.3,441.6 670.6,445.1 670.9,442.4 671.2,440.1 671.5,441.8 671.8,442.9 672.1,441.4 672.4,441.9 672.7,442.5 673.0,443.4 673.3,442.9 673.6,442.1 673.9,444.0 674.2,442.5 674.5,442.6 674.8,441.7 675.1,442.3 675.4,444.0 675.7,441.4 676.0,443.2 676.3,444.1 676.6,442.9 676.9,443.6 677.2,442.0 677.5,444.8 677.8,444.5 678.1,443.6 678.4,441.3 678.7,442.1 679.0,444.4 679.3,445.2 679.6,443.6 679.9,444.6 680.2,442.5 680.5,443.0 680.8,443.1 681.1,443.6 681.4,441.3 681.7,444.1 682.0,444.4 682.3,441.6 682.6,441.2 682.9,443.0 683.2,441.7 683.5,439.3 683.8,442.4 684.1,440.7 684.4,438.3 684.7,439.2 685.0,433.3 685.3,427.9 685.6,424.6 685.9,418.7 686.2,417.6 686.5,416.8 686.5,416.8 686.8,417.2 687.1,422.6 687.4,423.4 687.7,425.2 688.0,426.6 688.3,428.8 688.6,432.8 688.9,433.4 689.2,438.5 689.5,437.0 689.8,439.5 690.1,439.4 690.4,441.4 690.7,442.9 691.0,444.2 691.3,442.0 691.6,442.8 691.9,442.5 692.2,442.2 692.5,441.7 692.8,443.1 693.1,441.2 693.4,443.3 693.7,443.2 694.0,442.4 694.3,442.0 694.6,441.6 694.9,445.3 695.2,441.7 695.5,444.9 695.8,443.8 696.1,442.7 696.4,441.8 696.7,444.2 697.0,445.0 697.3,441.9 697.6,442.5 697.9,443.9 698.2,442.8 698.5,444.4 698.8,440.7 699.1,440.9 699.4,437.0 699.7,439.0 700.0,432.4 700.3,427.1 700.6,427.3 700.9,425.6 701.1,425.1 701.2,425.1 701.5,425.9 701.8,428.3 702.1,431.2 702.4,430.0 702.7,432.8 703.0,433.4 703.3,434.0 703.6,436.3 703.9,438.1 704.2,438.5 704.5,442.2 704.8,440.0 705.1,443.5 705.4,443.6 705.7,442.7 706.0,442.0 706.3,442.7 706.6,443.6 706.9,443.9 707.2,443.4 707.5,444.3 707.8,442.5 708.1,443.4 708.4,441.4 708.7,444.1 709.0,443.4 709.3,442.7 709.6,444.5 709.9,444.0 710.2,440.0 710.5,443.2 710.8,441.5 711.1,444.4 711.4,445.9 711.7,442.5 712.0,443.2 712.3,442.8 712.6,443.4 712.9,443.7 713.2,444.4 713.5,441.7 713.8,444.5 714.1,441.5 714.4,442.6 714.7,443.3 715.0,442.1 715.3,439.2 715.6,438.2 715.9,436.8 716.2,435.5 716.5,435.3 716.8,430.4 717.1,431.3 717.3,431.2 717.4,431.2 717.7,432.4 718.0,434.7 718.3,434.1 718.6,435.3 718.9,435.7 719.2,438.2 719.5,434.5 719.8,439.7 720.1,438.8 720.4,439.6 720.7,439.5 721.0,439.0 721.3,441.1 721.6,440.9 721.9,442.4 722.2,440.1 722.5,443.4 722.8,442.0 723.1,441.3 723.4,440.6 723.7,440.3 724.0,439.7 724.3,440.1 724.6,440.5 724.9,439.9 725.2,438.0 725.5,438.8 725.8,437.3 726.1,437.6 726.4,438.2 726.7,433.8 727.0,427.7 727.3,417.7 727.6,405.9 727.9,388.3 728.2,370.1 728.5,342.5 728.8,319.4 729.1,301.1 729.4,293.9 729.7,300.6 730.0,308.7 730.3,321.9 730.6,331.7 730.9,342.8 731.2,348.2 731.5,359.0 731.8,372.4 732.1,387.0 732.4,403.8 732.7,418.7 733.0,421.7 733.3,430.7 733.6,433.3 733.9,433.4 734.2,434.9 734.5,433.6 734.8,429.8 735.1,429.5 735.4,422.9 735.6,422.0 735.7,422.2 736.0,424.2 736.3,429.3 736.6,432.8 736.9,431.9 737.2,430.4 737.5,428.3 737.8,426.0 737.9,426.0 738.1,426.8 738.4,430.8 738.7,434.0 739.0,433.3 739.3,436.4 739.6,435.6 739.9,435.3 740.2,437.0 740.5,434.9 740.8,436.4 741.1,434.5 741.4,436.6 741.7,436.0 742.0,432.7 742.3,428.7 742.6,426.1 742.9,410.7 743.2,396.2 743.5,377.6 743.8,359.3 744.1,339.8 744.4,320.9 744.7,315.1 745.0,318.7 745.3,331.3 745.6,339.3 745.9,352.2 746.2,356.6 746.5,362.9 746.8,372.3 747.1,383.5 747.4,397.2 747.7,405.1 748.0,419.0 748.3,424.6 748.6,429.7 748.9,434.7 749.2,436.6 749.5,437.1 749.8,437.2 750.1,438.6 750.4,441.9 750.7,442.8 751.0,441.5 751.3,442.2 751.6,440.2 751.9,440.6 752.2,440.7 752.5,438.2 752.8,437.0 753.1,436.5 753.4,433.3 753.7,429.1 754.0,428.0 754.3,424.3 754.6,423.4 754.7,423.3 754.9,423.7 755.2,425.3 755.5,426.6 755.8,427.5 756.1,429.0 756.4,431.6 756.7,432.5 757.0,434.9 757.3,432.7 757.6,436.3 757.9,438.1 758.2,440.2 758.5,440.5 758.8,441.2 759.1,443.1 759.4,442.7 759.7,441.4 760.0,444.3 760.3,444.0 760.6,442.3 760.9,444.0 761.2,442.2 761.5,444.4 761.8,442.9 762.1,442.3 762.4,442.8 762.7,442.4 763.0,443.5 763.3,443.5 763.6,443.3 763.9,442.7 764.2,439.2 764.5,443.5 764.8,441.2 765.1,443.6 765.4,444.6 765.7,443.7 766.0,443.0 766.3,443.2 766.6,443.3 766.9,442.8 767.2,442.8 767.5,442.4 767.8,444.8 768.1,443.4 768.4,444.5 768.7,443.1 769.0,443.5 769.3,443.2 769.6,443.9 769.9,444.3 770.2,443.6 770.5,442.5 770.8,442.2 771.1,444.8 771.4,442.3 771.7,442.0 772.0,443.6 772.3,442.7 772.6,441.6 772.9,440.0 773.2,443.0 773.5,440.0 773.6,440.0 773.8,440.0 774.1,438.5 774.4,438.8 774.7,441.1 775.0,441.3 775.3,440.8 775.6,440.0 775.9,439.9 776.2,441.6 776.5,440.6 776.8,443.6 777.1,444.1 777.4,446.2 777.7,444.2 778.0,442.6 778.3,442.4 778.6,439.6 778.9,442.8 779.2,443.3 779.5,444.6 779.8,444.2 780.1,444.2 780.4,443.8 780.7,444.3 781.0,445.2 781.3,442.4 781.6,443.1 781.9,442.1 782.2,445.4 782.5,445.1 782.8,444.5 783.1,442.3 783.4,443.8 783.7,443.4 784.0,443.7 784.3,443.4 784.6,444.2 784.9,443.2 785.2,444.6 785.5,443.9 785.8,443.3 786.1,443.5 786.4,443.2 786.7,444.6 787.0,443.4 787.3,444.0 787.6,443.2 787.9,442.0 788.2,444.7 788.5,442.5 788.8,444.4 789.1,444.1 789.4,441.8 789.7,442.6 790.0,443.1 790.3,442.7 790.6,442.3 790.9,444.5 791.2,443.4 791.5,444.1 791.8,443.2 792.1,444.0 792.4,442.8 792.7,443.6 793.0,444.3 793.3,443.7 793.6,443.1 793.9,442.4 794.2,443.8 794.5,444.0 794.8,443.3 795.1,442.7 795.4,444.2 795.7,446.3 796.0,443.2 796.3,443.9 796.6,443.9 796.9,440.6 797.2,443.6 797.5,442.6 797.8,444.9 798.1,443.0 798.4,442.3 798.7,442.8 799.0,443.1 799.3,442.0 799.6,442.1 799.9,439.8 800.2,439.9 800.5,439.6 800.8,439.3 801.1,435.5 801.4,432.8 801.7,432.4 802.0,429.8 802.1,429.7 802.3,429.9 802.6,430.6 802.9,432.3 803.2,433.3 803.5,434.3 803.8,434.7 804.1,434.0 804.4,433.0 804.7,436.0 805.0,435.6 805.3,439.5 805.6,440.5 805.9,439.4 806.2,442.9 806.5,443.6 806.8,443.0 807.1,445.0 807.4,445.4 807.7,442.0 808.0,444.6 808.3,443.9 808.6,443.9 808.9,444.5 809.2,442.7 809.5,442.9 809.8,442.6 810.1,442.7 810.4,443.5 810.7,442.0 811.0,442.5 811.3,444.3 811.6,443.6 811.9,444.1 812.2,441.6 812.5,442.8 812.8,443.0 813.1,443.7 813.4,443.0 813.7,444.7 814.0,443.6 814.3,443.7 814.6,443.7 814.9,444.5 815.2,443.2 815.5,444.9 815.8,444.2 816.1,443.9 816.4,443.8 816.7,444.3 817.0,444.8 817.3,444.8 817.6,444.1 817.9,444.7 818.2,443.9 818.5,445.1 818.8,443.7 819.1,441.4 819.4,445.2 819.7,443.9 820.0,442.4 820.3,443.5"/>
<g stroke="#5a4fd0" stroke-width="1.1"><line x1="111.5" y1="557" x2="111.5" y2="191.8"/><line x1="195.5" y1="557" x2="195.5" y2="374"/><line x1="228.5" y1="557" x2="228.5" y2="521"/><line x1="250.5" y1="557" x2="250.5" y2="484"/><line x1="266.5" y1="557" x2="266.5" y2="539.6"/><line x1="303.5" y1="557" x2="303.5" y2="546.8"/><line x1="324.5" y1="557" x2="324.5" y2="554"/><line x1="364.5" y1="557" x2="364.5" y2="469.4"/><line x1="365.5" y1="557" x2="365.5" y2="540"/><line x1="370.5" y1="557" x2="370.5" y2="491.6"/><line x1="394.5" y1="557" x2="394.5" y2="473"/><line x1="405.5" y1="557" x2="405.5" y2="466.1"/><line x1="419.5" y1="557" x2="419.5" y2="502.4"/><line x1="422.5" y1="557" x2="422.5" y2="543"/><line x1="434.5" y1="557" x2="434.5" y2="484.4"/><line x1="443.5" y1="557" x2="443.5" y2="536"/><line x1="452.5" y1="557" x2="452.5" y2="521"/><line x1="454.5" y1="557" x2="454.5" y2="543"/><line x1="467.5" y1="557" x2="467.5" y2="521"/><line x1="471.5" y1="557" x2="471.5" y2="547.1"/><line x1="482.5" y1="557" x2="482.5" y2="550.4"/><line x1="514.5" y1="557" x2="514.5" y2="466.1"/><line x1="526.5" y1="557" x2="526.5" y2="554"/><line x1="533.5" y1="557" x2="533.5" y2="554"/><line x1="551.5" y1="557" x2="551.5" y2="554"/><line x1="554.5" y1="557" x2="554.5" y2="554"/><line x1="564.5" y1="557" x2="564.5" y2="554"/><line x1="572.5" y1="557" x2="572.5" y2="555"/><line x1="580.5" y1="557" x2="580.5" y2="550.3"/><line x1="591.5" y1="557" x2="591.5" y2="555"/><line x1="594.5" y1="557" x2="594.5" y2="555"/><line x1="612.5" y1="557" x2="612.5" y2="550.3"/><line x1="626.5" y1="557" x2="626.5" y2="550.3"/><line x1="631.5" y1="557" x2="631.5" y2="536.2"/><line x1="638.5" y1="557" x2="638.5" y2="553"/><line x1="641.5" y1="557" x2="641.5" y2="517.3"/><line x1="647.5" y1="557" x2="647.5" y2="506.3"/><line x1="654.5" y1="557" x2="654.5" y2="536.2"/><line x1="656.5" y1="557" x2="656.5" y2="547.2"/><line x1="666.5" y1="557" x2="666.5" y2="539.3"/><line x1="687.5" y1="557" x2="687.5" y2="539.3"/><line x1="701.5" y1="557" x2="701.5" y2="547.2"/><line x1="730.5" y1="557" x2="730.5" y2="468"/><line x1="736.5" y1="557" x2="736.5" y2="543"/><line x1="744.5" y1="557" x2="744.5" y2="502.2"/><line x1="755.5" y1="557" x2="755.5" y2="539.3"/></g>
<g fill="#000"><path d="M103.35,89.10L118.05,89.10L110.70,104.50ZM106.61,90.60L111.31,100.44L116.00,90.60Z"/><path d="M187.65,147.90L202.35,147.90L195.00,163.30ZM190.91,149.40L195.61,159.24L200.30,149.40Z"/><path d="M220.35,396.70L235.05,396.70L227.70,412.10ZM223.61,398.20L228.31,408.04L233.00,398.20Z"/><path d="M242.05,350.80L256.75,350.80L249.40,366.20ZM245.31,352.30L250.01,362.14L254.70,352.30Z"/><path d="M356.65,311.60L371.35,311.60L364.00,327.00ZM359.91,313.10L364.61,322.94L369.30,313.10Z"/><path d="M363.45,296.80L378.15,296.80L370.80,312.20ZM366.71,298.30L371.41,308.14L376.10,298.30Z"/><path d="M386.35,243.00L401.05,243.00L393.70,258.40ZM389.61,244.50L394.31,254.34L399.00,244.50Z"/><path d="M399.45,250.00L414.15,250.00L406.80,265.40ZM402.71,251.50L407.41,261.34L412.10,251.50Z"/><path d="M413.25,351.00L427.95,351.00L420.60,366.40ZM416.51,352.50L421.21,362.34L425.90,352.50Z"/><path d="M427.65,327.00L442.35,327.00L435.00,342.40ZM430.91,328.50L435.61,338.34L440.30,328.50Z"/><path d="M437.25,400.00L451.95,400.00L444.60,415.40ZM440.51,401.50L445.21,411.34L449.90,401.50Z"/><path d="M444.05,331.00L458.75,331.00L451.40,346.40ZM447.31,332.50L452.01,342.34L456.70,332.50Z"/><path d="M458.95,374.70L473.65,374.70L466.30,390.10ZM462.21,376.20L466.91,386.04L471.60,376.20Z"/><path d="M468.25,403.00L482.95,403.00L475.60,418.40ZM471.51,404.50L476.21,414.34L480.90,404.50Z"/><path d="M506.35,192.90L521.05,192.90L513.70,208.30ZM509.61,194.40L514.31,204.24L519.00,194.40Z"/><path d="M572.05,414.50L586.75,414.50L579.40,429.90ZM575.31,416.00L580.01,425.84L584.70,416.00Z"/><path d="M623.25,391.60L637.95,391.60L630.60,407.00ZM626.51,393.10L631.21,402.94L635.90,393.10Z"/><path d="M632.55,364.50L647.25,364.50L639.90,379.90ZM635.81,366.00L640.51,375.84L645.20,366.00Z"/><path d="M637.95,357.80L652.65,357.80L645.30,373.20ZM641.21,359.30L645.91,369.14L650.60,359.30Z"/><path d="M647.45,397.60L662.15,397.60L654.80,413.00ZM650.71,399.10L655.41,408.94L660.10,399.10Z"/><path d="M659.65,384.90L674.35,384.90L667.00,400.30ZM662.91,386.40L667.61,396.24L672.30,386.40Z"/><path d="M678.75,399.80L693.45,399.80L686.10,415.20ZM682.01,401.30L686.71,411.14L691.40,401.30Z"/><path d="M694.45,406.30L709.15,406.30L701.80,421.70ZM697.71,407.80L702.41,417.64L707.10,407.80Z"/><path d="M721.85,273.60L736.55,273.60L729.20,289.00ZM725.11,275.10L729.81,284.94L734.50,275.10Z"/><path d="M737.55,294.80L752.25,294.80L744.90,310.20ZM740.81,296.30L745.51,306.14L750.20,296.30Z"/><path d="M747.05,402.60L761.75,402.60L754.40,418.00ZM750.31,404.10L755.01,413.94L759.70,404.10Z"/><path d="M541.90,47.90L558.10,47.90L549.50,65.30ZM545.44,49.50L550.27,60.58L555.75,49.50Z"/></g>
<rect x="81" y="7" width="740" height="550.5" fill="none" stroke="#000" stroke-width="2"/>
<g stroke="#000" stroke-width="2"><line x1="134.29" y1="557.5" x2="134.29" y2="546.5"/><line x1="187.08" y1="557.5" x2="187.08" y2="551.5"/><line x1="239.87" y1="557.5" x2="239.87" y2="546.5"/><line x1="292.66" y1="557.5" x2="292.66" y2="551.5"/><line x1="345.45" y1="557.5" x2="345.45" y2="546.5"/><line x1="398.24" y1="557.5" x2="398.24" y2="551.5"/><line x1="451.03" y1="557.5" x2="451.03" y2="546.5"/><line x1="503.82" y1="557.5" x2="503.82" y2="551.5"/><line x1="556.61" y1="557.5" x2="556.61" y2="546.5"/><line x1="609.40" y1="557.5" x2="609.40" y2="551.5"/><line x1="662.19" y1="557.5" x2="662.19" y2="546.5"/><line x1="714.98" y1="557.5" x2="714.98" y2="551.5"/><line x1="767.77" y1="557.5" x2="767.77" y2="546.5"/></g>
<g font-size="28.5" text-anchor="middle" fill="#000"><text x="134.29" y="591.6">10</text><text x="239.87" y="591.6">20</text><text x="345.45" y="591.6">30</text><text x="451.03" y="591.6">40</text><text x="556.61" y="591.6">50</text><text x="662.19" y="591.6">60</text><text x="767.77" y="591.6">70</text></g>
<g font-size="18" fill="#000"><text transform="translate(116.4,83.7) rotate(-90)" textLength="40.3" lengthAdjust="spacing">(003)</text><text transform="translate(200.1,143.2) rotate(-90)" textLength="41.0" lengthAdjust="spacing">(006)</text><text transform="translate(397.6,233.3) rotate(-90)" textLength="44.6" lengthAdjust="spacing">(0111)</text><text transform="translate(411.4,245.3) rotate(-90)" textLength="37.6" lengthAdjust="spacing">(116)</text><text transform="translate(518.2,188.2) rotate(-90)" textLength="45.3" lengthAdjust="spacing">(0210)</text><text transform="translate(367.7,307.5) rotate(-90)" textLength="41.0" lengthAdjust="spacing">(110)</text><text transform="translate(732.2,269.2) rotate(-90)" textLength="41.7" lengthAdjust="spacing">(220)</text></g>
<g font-size="28.3" fill="#000"><text x="570.0" y="62.5">Na</text><text x="632.9" y="62.5">Mg</text><text x="703.1" y="62.5">Al</text><text x="768.8" y="62.5">O</text></g>
<g font-size="16" fill="#000"><text x="603.9" y="73.5">1.67</text><text x="673.1" y="73.5">0.67</text><text x="731.3" y="73.5">10.33</text><text x="789.7" y="73.5">17</text></g>
<text x="595.2" y="484.8" font-size="28.8" fill="#000">JPDS No 35-0438</text>
<text x="377.1" y="644" font-size="33.2" fill="#000">2θ / degree</text>
<text transform="translate(30.9,389.6) rotate(-90)" font-size="33.3" fill="#000">Intensity / a.u.</text>
<rect x="832" y="0" width="1" height="650" fill="#000"/>
<rect x="0" y="649" width="833" height="1" fill="#000"/>
</svg>
</body></html>
